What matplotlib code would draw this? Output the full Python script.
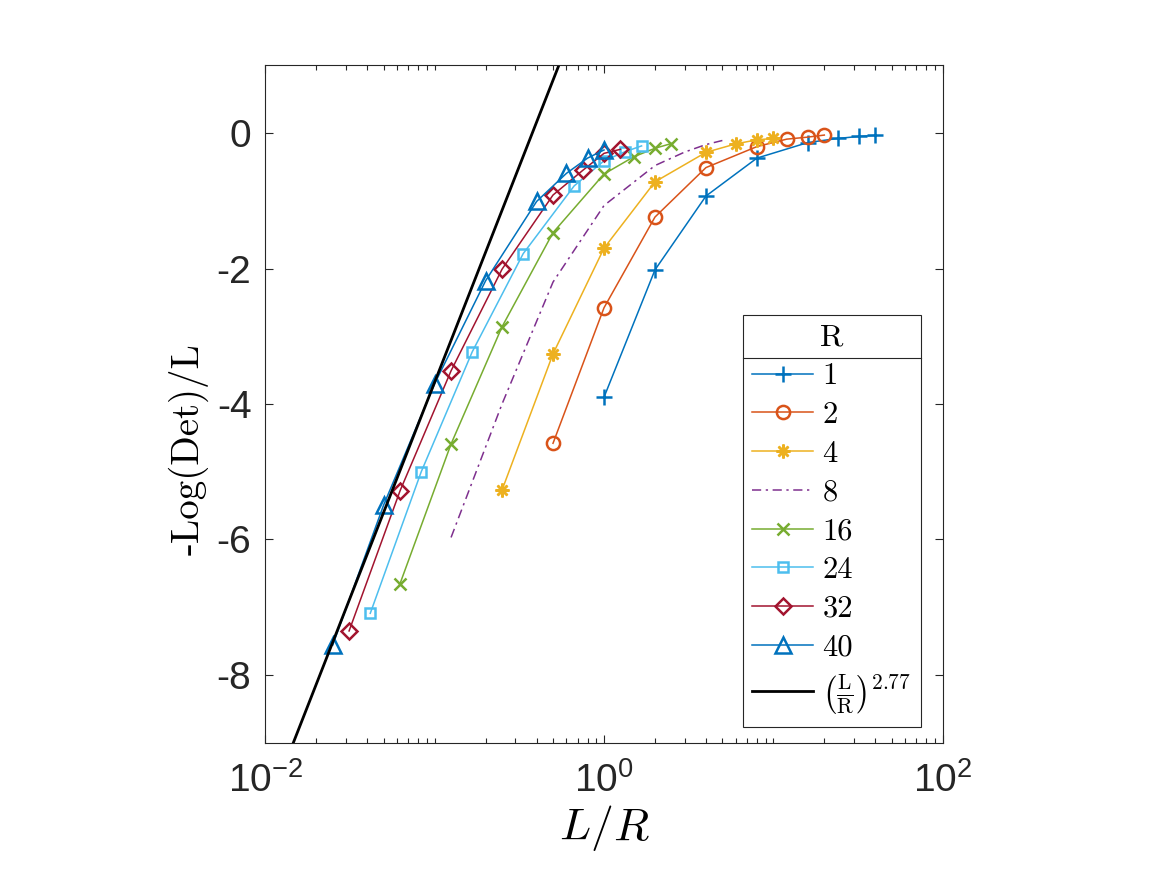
import numpy as np
import matplotlib
matplotlib.use("Agg")
import matplotlib.pyplot as plt
from matplotlib.ticker import FixedLocator, FuncFormatter, NullFormatter
from matplotlib.font_manager import FontProperties
from matplotlib.lines import Line2D

plt.rcParams['mathtext.fontset'] = 'custom'
plt.rcParams['mathtext.rm'] = 'Liberation Sans'
plt.rcParams['mathtext.it'] = 'Liberation Sans:italic'
plt.rcParams['mathtext.bf'] = 'Liberation Sans:bold'
plt.rcParams['font.family'] = ['Liberation Sans', 'DejaVu Sans']
plt.rcParams['axes.unicode_minus'] = False

# system sizes L and interaction ranges R, x = L/R
L_vals = np.array([1, 2, 4, 8, 16, 24, 32, 40])
R_vals = [1, 2, 4, 8, 16, 24, 32, 40]

# -Log(Det)/L, one list per R
y_R1 = [-3.90, -2.02, -0.93, -0.37, -0.14, -0.08, -0.05, -0.035]
y_R2 = [-4.58, -2.58, -1.24, -0.51, -0.20, -0.09, -0.06, -0.03]
y_R4 = [-5.27, -3.26, -1.70, -0.72, -0.285, -0.16, -0.10, -0.08]
y_R8 = [-5.97, -4.00, -2.20, -1.07, -0.48, -0.28, -0.17, -0.11]
y_R16 = [-6.65, -4.59, -2.86, -1.47, -0.605, -0.35, -0.225, -0.155]
y_R24 = [-7.09, -5.00, -3.23, -1.78, -0.78, -0.41, -0.275, -0.19]
y_R32 = [-7.35, -5.28, -3.51, -2.01, -0.915, -0.55, -0.30, -0.24]
y_R40 = [-7.56, -5.49, -3.70, -2.18, -1.01, -0.595, -0.37, -0.25]
all_y = [y_R1, y_R2, y_R4, y_R8, y_R16, y_R24, y_R32, y_R40]

# fitted power law (L/R)^2.77, shown as a straight line in log x
fit_exp = 2.77
fit_icpt = 2.70

colors = ['#0072BD', '#D95319', '#EDB120', '#7E2F8E', '#77AC30', '#4DBEEE', '#A2142F', '#0072BD']
markers = ['+', 'o', (8, 2, 0), None, 'x', 's', 'D', '^']
msizes = [11, 9.5, 10, 0, 9, 7, 8.5, 11]
linestyles = ['-', '-', '-', (0, (6, 3, 1.5, 3)), '-', '-', '-', '-']

fig = plt.figure(figsize=(11.67, 8.75), dpi=100)
ax = fig.add_axes([265.3 / 1167, (875 - 742.7) / 875, (942.7 - 265.3) / 1167, (742.7 - 65.3) / 875])

handles = []
for R, yv, c, m, ms, ls in zip(R_vals, all_y, colors, markers, msizes, linestyles):
    x = L_vals / R
    ln, = ax.plot(x, yv, color=c, lw=1.1, ls=ls, marker=m, ms=ms,
                  mfc='none', mec=c, mew=1.8)
    handles.append(ln)

xfit = np.logspace(-2, 0.3, 200)
fit_line, = ax.plot(xfit, fit_icpt + fit_exp * np.log(xfit), color='black', lw=2)
handles.append(fit_line)

ax.set_xscale('log')
ax.set_xlim(1e-2, 1e2)
ax.set_ylim(-9, 1)
ax.xaxis.set_major_locator(FixedLocator([1e-2, 1e0, 1e2]))
minor = [k * 10.0 ** n for n in range(-2, 2) for k in range(2, 10)] + [0.1, 10]
ax.xaxis.set_minor_locator(FixedLocator(minor))
ax.xaxis.set_minor_formatter(NullFormatter())
ax.xaxis.set_major_formatter(FuncFormatter(lambda v, p: r'$\mathregular{10^{%d}}$' % round(np.log10(v))))
ax.set_yticks([-8, -6, -4, -2, 0])

ax.tick_params(which='both', direction='in', top=True, right=True, colors='#262626',
               labelsize=28, width=0.8)
ax.tick_params(which='major', length=6)
ax.tick_params(which='minor', length=3.5)
ax.tick_params(axis='x', pad=14)
ax.tick_params(axis='y', pad=10)
for s in ax.spines.values():
    s.set_color('#262626')
    s.set_linewidth(0.8)

ax.set_xlabel(r'$L/R$', fontsize=33, math_fontfamily='cm', labelpad=2)
ax.set_ylabel('-Log(Det)/L', fontsize=28, family='cmr10')
ax.yaxis.set_label_coords(-0.083, 0.433)

labels = [str(r) for r in R_vals] + [r'$\left(\frac{\mathrm{L}}{\mathrm{R}}\right)^{2.77}$']
leg = ax.legend(handles, labels, loc='upper left',
                bbox_to_anchor=(743 / 1167, 1 - 315 / 875), bbox_transform=fig.transFigure,
                borderaxespad=0, frameon=True, fancybox=False, framealpha=1,
                edgecolor='#262626', title='R',
                prop=FontProperties(family='cmr10', size=22, math_fontfamily='cm'),
                title_fontproperties=FontProperties(family='cmr10', size=23),
                handlelength=2.0, handletextpad=0.3, labelspacing=0.37, borderpad=0.3)
leg.get_frame().set_linewidth(0.8)

# separator under the legend title
fig.canvas.draw()
rend = fig.canvas.get_renderer()
fb = leg.get_frame().get_window_extent(rend)
tb = leg.get_title().get_window_extent(rend)
ysep = (tb.y0 - 6) / fig.bbox.height
fig.add_artist(Line2D([fb.x0 / fig.bbox.width, fb.x1 / fig.bbox.width], [ysep, ysep],
                      transform=fig.transFigure, color='#262626', lw=0.8))

fig.savefig('out.png', dpi=100)
